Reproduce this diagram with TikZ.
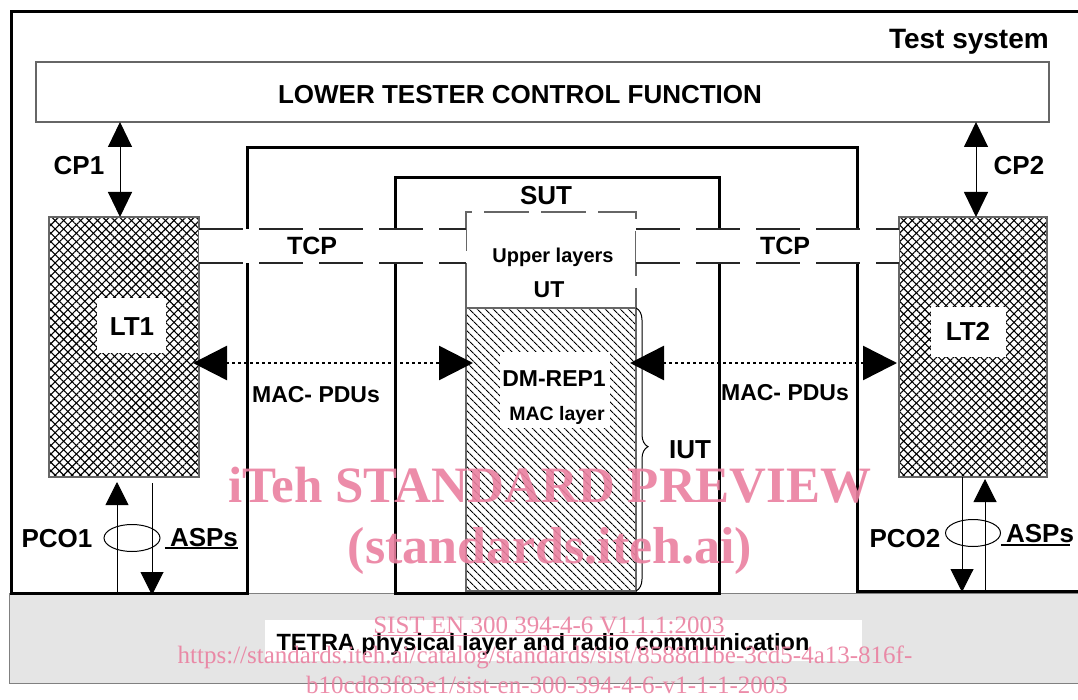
\documentclass[tikz,border=0pt]{standalone}
\usepackage{fontspec}
\setmainfont{Liberation Sans}
\newfontfamily\wmfont{Liberation Serif}
\usetikzlibrary{arrows.meta,patterns.meta,shapes.geometric,decorations.pathreplacing}
\newcommand\fsz[1]{\fontsize{#1}{#1}\selectfont}
\definecolor{wmpink}{RGB}{234,128,160}

\begin{document}
\begin{tikzpicture}[x=1pt,y=-1pt,
  heavy/.style={draw, line width=3pt},
  frame/.style={draw=gray!80!black, line width=1.2pt},
  boxnode/.style={anchor=north west, inner sep=0pt, outer sep=0pt},
  lbl/.style={inner sep=0pt, anchor=base, font=\bfseries\fsz{26}},
  small/.style={lbl, font=\bfseries\fsz{20}},
  cross/.style={preaction={pattern={Lines[angle=45,distance=6pt,line width=1.1pt]}},
                pattern={Lines[angle=-45,distance=6pt,line width=1.1pt]}},
  slant/.style={pattern={Lines[angle=-45,distance=5.4pt,line width=1pt]}},
  tcpline/.style={draw=black!85, line width=1.1pt, dash pattern=on 44pt off 16pt},
  cparrow/.style={line width=1pt, {Triangle[length=25pt,width=24pt]}-{Triangle[length=25pt,width=24pt]}},
  macarrow/.style={line width=2.5pt, dash pattern=on 2.5pt off 3.5pt,
                   {Triangle[length=34pt,width=34pt]}-{Triangle[length=34pt,width=34pt]}},
  asparrow/.style={line width=1pt, -{Triangle[length=23pt,width=23pt]}},
  wm/.style={inner sep=0pt, anchor=base, text=wmpink, opacity=0.9},
]
\useasboundingbox (0,0) rectangle (1078,700);

% physical layer band
\node[boxnode, draw=gray, line width=1pt, fill=gray!20, minimum width=1090pt, minimum height=90pt] (band) at (9,593) {};
\node[boxnode, fill=white, minimum width=597pt, minimum height=41pt] (bandw) at (265,620) {};
\node[lbl, font=\bfseries\fsz{23.5}] (phy) at (543,650) {TETRA physical layer and radio communication};

% test system outline
\draw[heavy] (1095,591) -- (857,591) -- (857,148) -- (247,148) -- (247,593) -- (11,593) -- (11,12) -- (1095,12);

% SUT frame
\node[boxnode, heavy, minimum width=324pt, minimum height=415pt] (sut) at (395,178) {};
\node[lbl] (suttext) at (546,205) {SUT};

% lower tester control function
\node[boxnode, frame, fill=white, minimum width=1013pt, minimum height=60pt] (ltcf) at (36,62) {};
\node[lbl] (ltcftext) at (520,104) {LOWER TESTER CONTROL FUNCTION};
\node[lbl, anchor=base east, font=\bfseries\fsz{28}] (tsys) at (1049,49) {Test system};

% lower testers
\node[boxnode, frame, cross, minimum width=150pt, minimum height=260pt] (lt1) at (49,217) {};
\node[boxnode, frame, cross, minimum width=148pt, minimum height=260pt] (lt2) at (899,217) {};
\node[boxnode, fill=white, minimum width=69pt, minimum height=55pt] (lt1w) at (97,298) {};
\node[boxnode, fill=white, minimum width=75pt, minimum height=50pt] (lt2w) at (931,307) {};
\node[lbl] (lt1text) at (132,335) {LT1};
\node[lbl] (lt2text) at (968,341) {LT2};

% IUT and upper layers
\node[boxnode, frame, slant, minimum width=170pt, minimum height=283pt] (dm) at (466,308) {};
\node[boxnode, fill=white, minimum width=110pt, minimum height=76pt] (dmw) at (500,352) {};
\node[lbl, font=\bfseries\fsz{23}] (dmtext) at (554,386) {DM-REP1};
\node[small, font=\bfseries\fsz{19.5}] (mactext) at (557,420) {MAC layer};
\node[boxnode, minimum width=170pt, minimum height=96pt] (ul) at (466,212) {};
\draw[draw=gray!80!black, line width=1.2pt, dash pattern=on 45pt off 12pt]
  (ul.south west) -- (ul.north west) -- (ul.north east) -- (ul.south east);
\node[small] (ultext) at (553,263) {Upper layers};
\node[small, font=\bfseries\fsz{23}] (uttext) at (549,298) {UT};
\draw[line width=1pt, decorate, decoration={brace, amplitude=12pt, aspect=0.49}]
  (dm.north east) -- (dm.south east);
\node[lbl] (iuttext) at (690,458) {IUT};

% test coordination procedures
\coordinate (tcpA) at (0,229);
\coordinate (tcpB) at (0,263);
\fill[white] (lt1.east |- tcpA) rectangle (ul.west |- tcpB);
\fill[white] (ul.east |- tcpA) rectangle (lt2.west |- tcpB);
\draw[tcpline] (lt1.east |- tcpA) -- (ul.west |- tcpA);
\draw[tcpline] (lt1.east |- tcpB) -- (ul.west |- tcpB);
\draw[tcpline] (ul.east |- tcpA) -- (lt2.west |- tcpA);
\draw[tcpline] (ul.east |- tcpB) -- (lt2.west |- tcpB);
\node[lbl, font=\bfseries\fsz{25}] (tcp1) at (312,255) {TCP};
\node[lbl, font=\bfseries\fsz{25}] (tcp2) at (785,255) {TCP};

% control points
\coordinate (cp1x) at (120,0);
\coordinate (cp2x) at (976,0);
\draw[cparrow] (cp1x |- ltcf.south) -- (cp1x |- lt1.north);
\draw[cparrow] (cp2x |- ltcf.south) -- (cp2x |- lt2.north);
\node[lbl] (cp1) at (79,175) {CP1};
\node[lbl] (cp2) at (1019,175) {CP2};

% MAC PDU exchange
\coordinate (macy) at (0,363);
\draw[macarrow, shorten <=-6pt, shorten >=-7pt] (lt1.east |- macy) -- (dm.west |- macy);
\draw[macarrow, shorten <=-6pt, shorten >=2pt] (dm.east |- macy) -- (lt2.west |- macy);
\node[lbl, font=\bfseries\fsz{23}] (pdu1) at (316,402) {MAC- PDUs};
\node[lbl, font=\bfseries\fsz{23}] (pdu2) at (785,400) {MAC- PDUs};

% points of control and observation
\coordinate (a1u) at (117,0);
\coordinate (a1d) at (152,0);
\coordinate (a2d) at (962,0);
\coordinate (a2u) at (985,0);
\coordinate (rbase) at (0,591);
\draw[asparrow, shorten >=5pt] (a1u |- band.north) -- (a1u |- lt1.south);
\draw[asparrow, shorten <=6pt, shorten >=-2pt] (a1d |- lt1.south) -- (a1d |- band.north);
\draw[asparrow, shorten >=-1pt] (a2d |- lt2.south) -- (a2d |- rbase);
\draw[asparrow, shorten >=2pt] (a2u |- rbase) -- (a2u |- lt2.south);
\node[draw, ellipse, line width=1pt, minimum width=56pt, minimum height=27pt, inner sep=0pt] (pco1e) at (132,538) {};
\node[draw, ellipse, line width=1pt, minimum width=55pt, minimum height=27pt, inner sep=0pt] (pco2e) at (973,533) {};
\node[lbl] (pco1) at (57,547) {PCO1};
\node[lbl] (pco2) at (905,547) {PCO2};
\node[lbl] (asp1) at (204,546) {ASPs};
\node[lbl] (asp2) at (1040,542) {ASPs};
\draw[line width=1.2pt] ([xshift=-5pt,yshift=-2pt]asp1.base west) -- ([yshift=-2pt]asp1.base east);
\draw[line width=1.2pt] ([xshift=-5pt,yshift=-3pt]asp2.base west) -- ([xshift=-4pt,yshift=-3pt]asp2.base east);

% publisher overlay
\node[wm, font=\wmfont\bfseries\fsz{51}] (wm1) at (550,502) {iTeh STANDARD PREVIEW};
\node[wm, font=\wmfont\bfseries\fsz{52}] (wm2) at (550,563) {(standards.iteh.ai)};
\node[wm, font=\wmfont\fsz{25}] (wm3) at (549,633) {SIST EN 300 394-4-6 V1.1.1:2003};
\draw[wmpink, opacity=0.9, line width=1pt] ([yshift=-2pt]wm3.base west) -- ([yshift=-2pt]wm3.base east);
\node[wm, font=\wmfont\fsz{25}] (wm4) at (545,663) {https://standards.iteh.ai/catalog/standards/sist/8588d1be-3cd5-4a13-816f-};
\node[wm, font=\wmfont\fsz{25}] (wm5) at (547,693) {b10cd83f83e1/sist-en-300-394-4-6-v1-1-1-2003};
\end{tikzpicture}
\end{document}
